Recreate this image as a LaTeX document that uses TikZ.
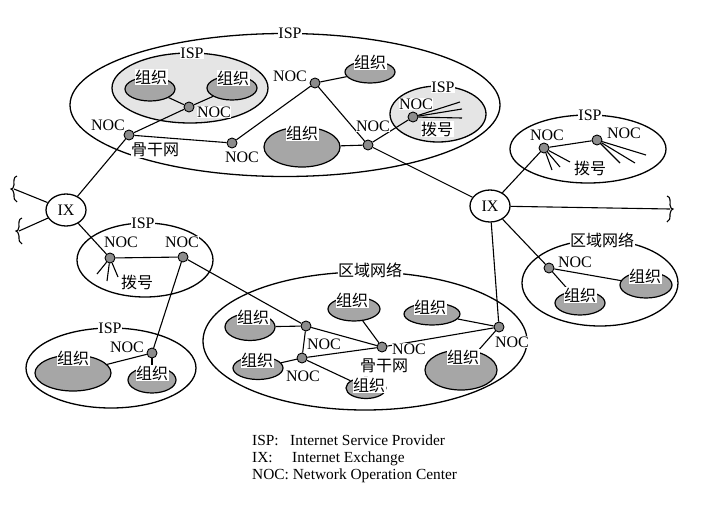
\documentclass[tikz,border=0pt]{standalone}
\usepackage{fontspec}
\setmainfont{Liberation Serif}
\newfontfamily\cjk{Noto Sans CJK SC}
\usetikzlibrary{shapes.geometric}
\newcommand{\zhtxt}[1]{{\cjk #1}}

\begin{document}
\begin{tikzpicture}[x=1pt,y=-1pt,
  netarea/.style={ellipse,draw,line width=1.3pt,inner sep=0pt},
  ispfill/.style={netarea,fill=black!10},
  blob/.style={ellipse,draw,line width=1.2pt,fill=black!35,inner sep=0pt},
  nocdot/.style={circle,draw,line width=0.9pt,fill=black!45,minimum size=10pt,inner sep=0pt},
  ixbox/.style={ellipse,draw,line width=1.3pt,fill=white,minimum width=40pt,minimum height=32pt,inner sep=0pt,font=\fontsize{16}{18}\selectfont},
  tg/.style={fill=white,inner sep=0.5pt,font=\fontsize{16}{18}\selectfont},
  wire/.style={line width=1.1pt},
  rbrace/.pic={\draw[wire] (-3,-13) .. controls (1,-12) and (0,-7) .. (0,-4) .. controls (0,-1) and (2,0) .. (3,0) .. controls (2,0) and (0,2) .. (0,5) .. controls (0,9) and (0,12) .. (-3,13);},
  lbrace/.pic={\draw[wire] (3,-13) .. controls (-1,-12) and (0,-7) .. (0,-4) .. controls (0,-1) and (-2,0) .. (-3,0) .. controls (-2,0) and (0,2) .. (0,5) .. controls (0,9) and (0,12) .. (3,13);}]
\useasboundingbox (0,0) rectangle (718,504);

% areas
\node[netarea,minimum width=430pt,minimum height=143pt] (ispA) at (285,105) {};
\node[ispfill,minimum width=156pt,minimum height=70pt] (ispB) at (190,88) {};
\node[ispfill,minimum width=96pt,minimum height=56pt] (ispC) at (438,114) {};
\node[netarea,minimum width=156pt,minimum height=68pt] (ispD) at (588,149) {};
\node[netarea,minimum width=156pt,minimum height=86pt] (regE) at (600,283) {};
\node[netarea,minimum width=324pt,minimum height=138pt] (regF) at (365,341) {};
\node[netarea,minimum width=136pt,minimum height=74pt] (ispG) at (145,260) {};
\node[netarea,minimum width=170pt,minimum height=80pt] (ispH) at (111,368) {};

% organisations
\node[blob,minimum width=50pt,minimum height=24pt] (o1) at (150,89) {};
\node[blob,minimum width=50pt,minimum height=24pt] (o2) at (232,88) {};
\node[blob,minimum width=50pt,minimum height=22pt] (o3) at (370,72) {};
\node[blob,minimum width=76pt,minimum height=40pt] (o4) at (302,147) {};
\node[blob,minimum width=52pt,minimum height=26pt] (o5) at (646,285) {};
\node[blob,minimum width=50pt,minimum height=24pt] (o6) at (580,303) {};
\node[blob,minimum width=50pt,minimum height=27pt] (f1) at (250,327) {};
\node[blob,minimum width=52pt,minimum height=24pt] (f2) at (354,309) {};
\node[blob,minimum width=56pt,minimum height=22pt] (f3) at (432,314) {};
\node[blob,minimum width=72pt,minimum height=40pt] (f4) at (461,370) {};
\node[blob,minimum width=50pt,minimum height=23pt] (f5) at (258,368) {};
\node[blob,minimum width=40pt,minimum height=21pt] (f6) at (366,388) {};
\node[blob,minimum width=76pt,minimum height=36pt] (h1) at (73,373) {};
\node[blob,minimum width=48pt,minimum height=26pt] (h2) at (152,380) {};

% exchanges and operation centres
\node[ixbox] (ix1) at (66,210) {IX};
\node[ixbox] (ix2) at (490,206) {IX};
\node[nocdot] (n1) at (189,107) {};
\node[nocdot] (n2) at (129,135) {};
\node[nocdot] (n3) at (232,143) {};
\node[nocdot] (n4) at (315,83) {};
\node[nocdot] (n5) at (368,145) {};
\node[nocdot] (n6) at (413,117) {};
\node[nocdot] (n7) at (544,148) {};
\node[nocdot] (n8) at (597,140) {};
\node[nocdot] (n9) at (549,268) {};
\node[nocdot] (nA) at (306,326) {};
\node[nocdot] (nB) at (302,358) {};
\node[nocdot] (nC) at (382,347) {};
\node[nocdot] (nD) at (499,327) {};
\node[nocdot] (nG1) at (110,258) {};
\node[nocdot] (nG2) at (183,257) {};
\node[nocdot] (nH) at (152,353) {};

% free ends
\coordinate (e1) at (14,189);
\coordinate (e2) at (19,231);
\coordinate (e3) at (670,209);
\foreach \i/\x/\y in {1/460/102,2/462/109,3/462/118,4/552/170,5/560/167,6/570/162,
  7/620/163,8/635/163,9/646/155,10/97/274,11/107/281,12/118/277}
  \coordinate (d\i) at (\x,\y);

% links
\foreach \a/\b in {ix1/e1,ix1/e2,ix2/e3,ix1/n2,ix1/nG1,nG1/nG2,nG2/nH,nG2/nA,nH/h1,nH/h2,
  n2/n1,n1/o1,n1/o2,n2/n3,n3/n4,n4/o3,n4/n5,o4/n5,n5/n6,n5/ix2,
  ix2/n7,n7/n8,ix2/n9,n9/o5,n9/o6,ix2/nD,
  nA/f1,nA/nC,nA/nB,nB/f5,nB/nC,nB/f6,nC/f2,nC/nD,nD/f3,nD/f4}
  \draw[wire] (\a) -- (\b);
\foreach \i in {1,2,3} \draw[wire] (n6) -- (d\i);
\foreach \i in {4,5,6} \draw[wire] (n7) -- (d\i);
\foreach \i in {7,8,9} \draw[wire] (n8) -- (d\i);
\foreach \i in {10,11,12} \draw[wire] (nG1) -- (d\i);
\pic at (e1) {lbrace};
\pic at (e2) {lbrace};
\pic at (e3) {rbrace};

% labels
\node[tg] (tA) at (290,33) {ISP};
\node[tg] (tB) at (192,53) {ISP};
\node[tg] (tC) at (443,87) {ISP};
\node[tg] (tD) at (590,115) {ISP};
\node[tg] (tE) at (602,240) {\zhtxt{区域网络}};
\node[tg] (tF) at (370,270) {\zhtxt{区域网络}};
\node[tg] (tG) at (143,223) {ISP};
\node[tg] (tH) at (110,328) {ISP};
\foreach \n/\x/\y in {o1/151/77,o2/233/78,o3/370/62,o4/302/133,o5/645/276,o6/580/295,
  f1/253/317,f2/352/300,f3/430/307,f4/463/357,f5/257/360,f6/369/385,h1/73/358,h2/152/373}
  \node[tg] (t\n) at (\x,\y) {\zhtxt{组织}};
\foreach \n/\x/\y in {n1/214/112,n2/108/125,n3/242/157,n4/290/76,n5/373/126,n6/416/104,
  n7/547/135,n8/624/133,n9/575/262,nA/324/344,nB/303/376,nC/409/349,nD/512/342,
  nG1/121/242,nG2/182/242,nH/127/347}
  \node[tg] (t\n) at (\x,\y) {NOC};
\node[tg] (bb1) at (155,150) {\zhtxt{骨干网}};
\node[tg] (bb2) at (384,366) {\zhtxt{骨干网}};
\node[tg] (dl1) at (437,129) {\zhtxt{拨号}};
\node[tg] (dl2) at (590,168) {\zhtxt{拨号}};
\node[tg] (dl3) at (137,282) {\zhtxt{拨号}};

% legend
\begin{scope}[every node/.style={anchor=base west,inner sep=0pt,font=\fontsize{15.4}{17}\selectfont}]
\node (k1) at (252,445) {ISP:};
\node (k2) at (290,445) {Internet Service Provider};
\node (k3) at (252,462) {IX:};
\node (k4) at (292,462) {Internet Exchange};
\node (k5) at (252,479) {NOC: Network Operation Center};
\end{scope}
\end{tikzpicture}
\end{document}
